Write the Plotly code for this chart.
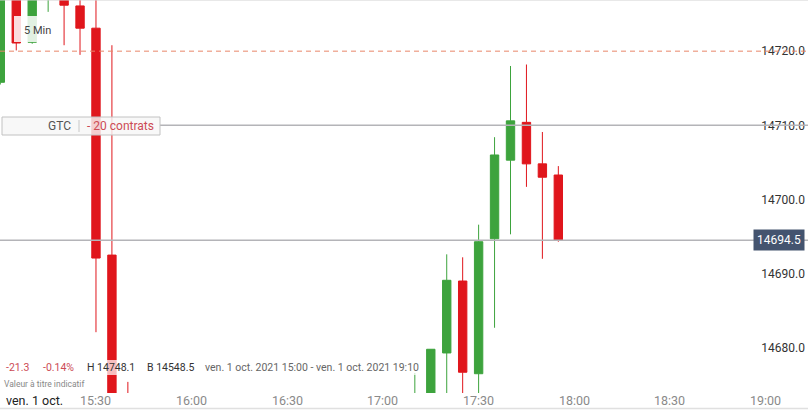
import plotly.graph_objects as go

# ---- data (5-minute candles, 1 Oct 2021) ----
times = ["15:00", "15:05", "15:10", "15:15", "15:20", "15:25", "15:30", "15:35", "15:40",
         "17:10", "17:15", "17:20", "17:25", "17:30", "17:35", "17:40", "17:45", "17:50", "17:55"]
opens = [14715.8, 14730.0, 14721.2, 14729.0, 14732.0, 14726.1, 14723.1, 14692.5, 14662.0,
         14662.0, 14668.0, 14679.3, 14689.0, 14676.5, 14694.7, 14705.3, 14710.4, 14704.8, 14703.3]
highs = [14731.0, 14733.0, 14735.0, 14737.0, 14735.0, 14728.0, 14728.5, 14720.8, 14675.4,
         14676.6, 14679.8, 14692.6, 14692.2, 14696.6, 14708.4, 14718.0, 14718.2, 14709.1, 14704.5]
lows = [14715.5, 14720.1, 14721.0, 14725.3, 14720.8, 14719.5, 14682.1, 14655.0, 14640.0,
        14655.0, 14660.0, 14672.0, 14673.0, 14673.0, 14682.7, 14695.3, 14701.7, 14692.0, 14694.3]
closes = [14728.0, 14721.1, 14732.0, 14733.0, 14726.2, 14723.1, 14692.1, 14660.0, 14650.0,
          14670.0, 14679.8, 14689.1, 14676.7, 14694.3, 14706.0, 14710.6, 14704.8, 14703.0, 14694.5]

x_tick_times = ["15:30", "16:00", "16:30", "17:00", "17:30", "18:00", "18:30", "19:00"]
y_ticks = [14680.0, 14690.0, 14700.0, 14710.0, 14720.0]

stop_level = 14720.0
order_level = 14710.0
last_price = 14694.5
order_label = "- 20 contrats"
period_label = "5 Min"
info_change = "-21.3"
info_pct = "-0.14%"
info_high = "H 14748.1"
info_low = "B 14548.5"
info_range = "ven. 1 oct. 2021 15:00 - ven. 1 oct. 2021 19:10"
day_label = "ven. 1 oct."
disclaimer = "Valeur à titre indicatif"

DAY = "2021-10-01 "
x_dates = [DAY + t for t in times]

W, H = 808, 410
PH = 393  # plot area height in px
FONT = "Roboto"
GREEN = "#3da33d"
RED = "#e0161c"


def xp(px):
    return px / W


def yp(py):
    return 1 - py / PH


fig = go.Figure(go.Candlestick(
    x=x_dates, open=opens, high=highs, low=lows, close=closes,
    increasing=dict(line=dict(color=GREEN, width=1), fillcolor=GREEN),
    decreasing=dict(line=dict(color=RED, width=1), fillcolor=RED),
    whiskerwidth=0, hoverinfo="skip", showlegend=False,
))

shapes = [
    # top and bottom borders
    dict(type="line", xref="paper", yref="paper", x0=0, x1=1, y0=1, y1=1,
         line=dict(color="#d2d2d2", width=1)),
    dict(type="line", xref="paper", yref="paper", x0=0, x1=1, y0=yp(408.5), y1=yp(408.5),
         line=dict(color="#e0e0e0", width=1.5)),
    # stop level (dashed)
    dict(type="line", xref="paper", yref="y", x0=0, x1=1, y0=stop_level, y1=stop_level,
         line=dict(color="#e8866a", width=1, dash="5px,4px"), layer="above"),
    # order level
    dict(type="line", xref="paper", yref="y", x0=xp(160), x1=1, y0=order_level, y1=order_level,
         line=dict(color="#b4b4b8", width=1.5), layer="above"),
    # last price
    dict(type="line", xref="paper", yref="y", x0=0, x1=1, y0=last_price, y1=last_price,
         line=dict(color="#b4b4b8", width=1.5), layer="above"),
    # GTC box
    dict(type="rect", xref="paper", yref="paper", x0=xp(2), x1=xp(160), y0=yp(135), y1=yp(117),
         fillcolor="rgba(246,246,246,0.82)", line=dict(color="#c2c2c2", width=1), layer="above"),
    dict(type="line", xref="paper", yref="paper", x0=xp(79), x1=xp(79), y0=yp(132), y1=yp(120),
         line=dict(color="#c8c8c8", width=1), layer="above"),
    # 5 Min box
    dict(type="rect", xref="paper", yref="paper", x0=xp(14), x1=xp(52), y0=yp(42), y1=yp(16),
         fillcolor="rgba(255,255,255,0.85)", line=dict(width=0), layer="above"),
    # info row backdrop
    dict(type="rect", xref="paper", yref="paper", x0=0, x1=xp(420), y0=yp(375), y1=yp(360),
         fillcolor="rgba(255,255,255,0.72)", line=dict(width=0), layer="above"),
]


def ann(text, x, y, color, size=11, xanchor="left", xref="paper", **kw):
    return dict(text=text, x=x, y=y, xref=xref, yref="paper", showarrow=False,
                xanchor=xanchor, yanchor="middle", font=dict(family=FONT, size=size, color=color), **kw)


annotations = [
    ann(period_label, xp(22), yp(30), "#444444", 11),
    ann("GTC", xp(73), yp(126), "#555555", 12, xanchor="right"),
    ann(order_label, xp(85), yp(126), "#cc4b55", 12),
    ann(info_change, xp(4), yp(367), "#cc4b55", 10.5),
    ann(info_pct, xp(41), yp(367), "#cc4b55", 10.5),
    ann(info_high, xp(85), yp(367), "#333333", 10.5),
    ann(info_low, xp(145), yp(367), "#333333", 10.5),
    ann(info_range, xp(203), yp(367), "#666666", 10.5),
    ann(disclaimer, xp(2), yp(384), "#888888", 8.5),
    ann(day_label, xp(4), yp(400), "#222222", 12.5),
    dict(text=f"{last_price:.1f}", x=xp(805), y=last_price, xref="paper", yref="y",
         showarrow=False, xanchor="right", yanchor="middle",
         font=dict(family=FONT, size=12, color="white"),
         bgcolor="#44546f", borderpad=3),
]
for t in x_tick_times:
    annotations.append(ann(t, DAY + t, yp(400), "#8a8a8a", 12.5, xanchor="center", xref="x"))

fig.update_layout(
    width=W, height=H,
    margin=dict(l=0, r=0, t=0, b=H - PH),
    paper_bgcolor="white", plot_bgcolor="white",
    font=dict(family=FONT),
    boxgap=0.25,
    shapes=shapes, annotations=annotations,
    showlegend=False,
    xaxis=dict(
        type="date",
        range=["2021-10-01 14:59:54", "2021-10-01 19:13:18"],
        showticklabels=False,
        showgrid=False, zeroline=False, showline=False, ticks="",
        rangeslider=dict(visible=False), fixedrange=True,
    ),
    yaxis=dict(
        side="right", ticklabelposition="inside",
        range=[14673.9, 14726.9],
        tickvals=y_ticks, ticktext=[f"{v:.1f}" for v in y_ticks],
        tickfont=dict(family=FONT, size=12, color="#333333"),
        showgrid=False, zeroline=False, showline=False, ticks="",
        fixedrange=True,
    ),
)

fig.write_html(
    "out.html",
    config={"displayModeBar": False},
    post_script="document.body.style.margin='0';document.body.style.overflow='hidden';",
)
